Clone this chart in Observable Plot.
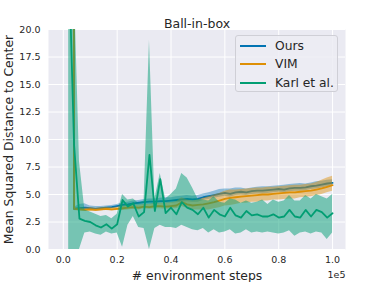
<!DOCTYPE html>
<html>
<head>
<meta charset="utf-8">
<script src="https://cdn.jsdelivr.net/npm/d3@7"></script>
<script src="https://cdn.jsdelivr.net/npm/@observablehq/plot@0.6"></script>
<style>
  html, body { margin: 0; padding: 0; background: #fff; }
  #wrap { position: relative; width: 384px; height: 282px; font-family: "DejaVu Sans", sans-serif; color: #262626; }
  #legend { position: absolute; left: 235px; top: 35px; width: 103px; height: 57px; box-sizing: border-box;
    background: rgba(236,236,243,0.85); border: 1px solid #cfcfd6; border-radius: 3px; }
  .row { position: absolute; left: 4px; height: 18px; display: flex; align-items: center; font-size: 12.3px; }
  .sw { width: 26px; height: 0; border-top: 2px solid; margin-right: 9px; }
</style>
</head>
<body>
<div id="wrap"><div id="chart"></div><div id="legend"></div></div>
<script>
const steps = [2000,4000,6000,8000,10000,12000,14000,16000,18000,20000,22000,24000,26000,28000,30000,32000,34000,36000,38000,40000,42000,44000,46000,48000,50000,52000,54000,56000,58000,60000,62000,64000,66000,68000,70000,72000,74000,76000,78000,80000,82000,84000,86000,88000,90000,92000,94000,96000,98000,100000];

const oursMean = [400,3.7,3.75,3.8,3.75,3.7,3.75,3.8,3.85,3.95,4.05,4.1,4.2,4.25,4.3,4.35,4.35,4.4,4.4,4.45,4.5,4.55,4.6,4.55,4.6,4.75,4.85,4.95,5.05,5.15,5.05,5.2,5.25,5.2,5.3,5.35,5.35,5.4,5.45,5.5,5.45,5.55,5.6,5.6,5.65,5.75,5.8,5.9,6.0,6.05];
const oursLo = [380,3.55,3.6,3.6,3.6,3.55,3.6,3.65,3.7,3.8,3.85,3.9,3.95,4.0,4.05,4.1,4.1,4.15,4.15,4.2,4.25,4.3,4.35,4.3,4.3,4.45,4.55,4.65,4.75,4.85,4.75,4.9,4.95,4.9,5.0,5.05,5.05,5.1,5.15,5.2,5.15,5.25,5.3,5.3,5.35,5.45,5.5,5.6,5.7,5.75];
const oursHi = [420,3.85,4.1,4.15,3.95,3.9,3.9,3.95,4.0,4.1,4.25,4.3,4.4,4.45,4.55,4.6,4.6,4.65,4.7,4.7,4.8,4.85,4.9,4.85,4.9,5.05,5.15,5.3,5.45,5.5,5.5,5.6,5.6,5.5,5.6,5.65,5.7,5.7,5.75,5.8,5.85,5.9,5.95,6.0,5.95,6.05,6.15,6.2,6.3,6.35];

const vimMean = [400,3.7,3.65,3.6,3.65,3.6,3.65,3.7,3.65,3.7,3.75,3.8,3.85,3.8,3.9,3.85,3.95,3.95,3.9,3.95,4.0,4.3,4.1,4.0,4.05,4.1,4.2,4.3,4.45,4.6,4.7,4.75,4.8,4.85,4.9,4.95,5.0,5.0,5.05,5.1,5.15,5.2,5.2,5.25,5.3,5.35,5.45,5.55,5.7,5.85];
const vimLo = [380,3.55,3.5,3.45,3.5,3.45,3.5,3.55,3.5,3.55,3.55,3.6,3.65,3.6,3.7,3.65,3.7,3.7,3.65,3.7,3.7,3.9,3.75,3.6,3.6,3.6,3.6,3.7,3.8,3.95,4.0,4.1,4.2,4.2,4.3,4.3,4.4,4.4,4.5,4.5,4.55,4.6,4.6,4.7,4.75,4.8,4.9,5.0,5.15,5.3];
const vimHi = [420,3.8,3.8,3.75,3.8,3.75,3.8,3.85,3.8,3.85,3.95,4.0,4.05,4.0,4.1,4.1,4.2,4.2,4.2,4.25,4.35,4.7,4.5,4.4,4.5,4.65,4.8,4.95,5.1,5.3,5.4,5.4,5.45,5.5,5.55,5.6,5.6,5.65,5.65,5.7,5.75,5.8,5.85,5.85,5.9,5.95,6.1,6.3,6.5,6.65];

const karlMean = [27,9.5,2.8,2.6,2.5,2.2,2.0,2.3,1.9,2.3,4.5,3.9,4.2,3.0,3.4,8.6,3.5,6.4,3.3,3.8,3.2,4.3,3.8,3.6,3.2,3.8,2.9,3.6,3.2,3.0,3.8,3.1,2.9,3.5,3.1,3.2,3.0,3.0,3.2,2.9,3.0,3.6,3.0,2.9,3.6,3.0,3.6,3.4,2.9,3.3];
const karlLo = [0,0,0,1.5,1.6,1.4,1.3,1.6,1.4,1.5,0.2,2.2,3.0,2.0,1.9,0,1.9,2.2,2.0,2.0,1.9,2.2,2.0,1.8,1.7,1.9,1.5,1.8,1.5,1.6,1.8,1.4,1.5,1.8,1.5,1.6,1.5,1.6,1.5,1.4,1.5,1.7,1.2,1.5,1.6,1.4,1.6,1.5,0.9,1.5];
const karlHi = [60,25,8,3.6,3.4,3.2,3.0,3.1,2.8,3.2,5.0,4.5,4.6,4.2,4.4,19,4.6,6.9,4.6,5.0,5.5,6.9,6.5,5.6,4.6,4.5,4.4,4.8,4.3,4.2,4.6,4.5,4.2,4.4,4.2,4.3,4.5,4.1,4.5,4.3,4.4,4.9,4.4,4.4,4.9,4.6,5.0,4.8,4.6,5.0];

const seriesNames = ["Ours", "VIM", "Karl et al."];
const seriesColors = ["#0173b2", "#de8f05", "#029e73"];
const xTicks = [0, 20000, 40000, 60000, 80000, 100000];
const yTicks = [0, 2.5, 5, 7.5, 10, 12.5, 15, 17.5, 20];
const titleText = "Ball-in-box";
const xLabel = "# environment steps";
const yLabel = "Mean Squared Distance to Center";
const xOffsetText = "1e5";

const rows = (m, lo, hi) => steps.map((s, i) => ({x: s, y: m[i], lo: lo[i], hi: hi[i]}));
const series = [rows(oursMean, oursLo, oursHi), rows(vimMean, vimLo, vimHi), rows(karlMean, karlLo, karlHi)];
const bandOpacity = [0.4, 0.45, 0.5];

const marks = [
  Plot.frame({fill: "#eaeaf2", stroke: "none"}),
  Plot.gridX(xTicks, {stroke: "white", strokeOpacity: 1, strokeWidth: 1}),
  Plot.gridY(yTicks, {stroke: "white", strokeOpacity: 1, strokeWidth: 1}),
];
series.forEach((d, k) => {
  marks.push(Plot.areaY(d, {x: "x", y1: "lo", y2: "hi", fill: seriesColors[k], fillOpacity: bandOpacity[k], clip: true}));
  marks.push(Plot.lineY(d, {x: "x", y: "y", stroke: seriesColors[k], strokeWidth: 1.8, clip: true}));
});
marks.push(
  Plot.axisX(xTicks, {tickSize: 0, tickPadding: 7, fontSize: 9.5, tickFormat: d => (d / 1e5).toFixed(1), label: null}),
  Plot.axisY(yTicks, {tickSize: 0, tickPadding: 8, fontSize: 9.5, tickFormat: d => d.toFixed(1), label: null}),
  Plot.text([titleText], {frameAnchor: "top", dy: -10, fontSize: 12.5, text: d => d}),
  Plot.text([xLabel], {frameAnchor: "bottom", lineAnchor: "middle", dy: 27, fontSize: 12.4, text: d => d}),
  Plot.text([yLabel], {frameAnchor: "left", dx: -39, rotate: -90, textAnchor: "middle", fontSize: 12.4, text: d => d}),
  Plot.text([xOffsetText], {frameAnchor: "bottom-right", lineAnchor: "middle", dy: 25, textAnchor: "end", fontSize: 9.5, text: d => d})
);

const chart = Plot.plot({
  width: 384, height: 282,
  marginLeft: 48, marginRight: 39, marginTop: 29, marginBottom: 33,
  style: {fontFamily: "DejaVu Sans, sans-serif", color: "#262626", background: "transparent"},
  x: {domain: [-5500, 104800]},
  y: {domain: [0, 20]},
  marks
});
document.getElementById("chart").appendChild(chart);

const legend = document.getElementById("legend");
seriesNames.forEach((name, k) => {
  const r = document.createElement("div");
  r.className = "row";
  r.style.top = (1 + 18.3 * k) + "px";
  const sw = document.createElement("span");
  sw.className = "sw";
  sw.style.borderColor = seriesColors[k];
  r.appendChild(sw);
  r.appendChild(document.createTextNode(name));
  legend.appendChild(r);
});
</script>
</body>
</html>
